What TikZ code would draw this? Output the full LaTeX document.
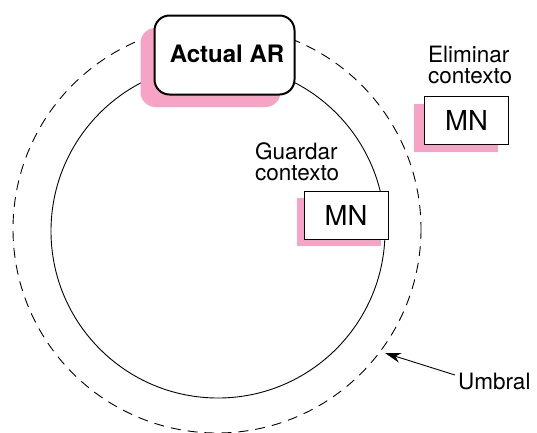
\documentclass[tikz,border=0pt]{standalone}
\usepackage{fontspec}
\setmainfont{TeX Gyre Heros}
\usetikzlibrary{shadows,arrows.meta}
\definecolor{shpink}{RGB}{247,163,198}
\begin{document}
\begin{tikzpicture}[x=1pt,y=-1pt,
  mnbox/.style={draw=black, line width=1pt, fill=white, minimum width=84pt, minimum height=48pt, inner sep=0pt, font=\fontsize{27.5}{27.5}\selectfont},
  lbl/.style={font=\fontsize{22.5}{21}\selectfont, align=left, inner sep=0pt},
  arbox/.style={draw=black, line width=2pt, rounded corners=15pt, fill=white, minimum width=140pt, minimum height=79pt, inner sep=0pt, font=\bfseries\fontsize{24}{24}\selectfont},
  pinkshadow/.style 2 args={general shadow={fill=shpink, draw=none, shadow xshift=#1, shadow yshift=#2}},
  umbralline/.style={line width=0.9pt},
]
\useasboundingbox (0,0) rectangle (537,432);
% threshold (dashed) and inner circle
\draw[umbralline, dash pattern=on 10pt off 7pt] (217,229) circle[radius=204];
\draw[umbralline] (218,231) circle[radius=167];
% current AR
\node[arbox, pinkshadow={-14pt}{-12.5pt}] (ar) at (224.5,55) {\raisebox{2.5pt}{\hspace*{5pt}Actual AR}};
% MN boxes
\node[mnbox, pinkshadow={-7pt}{-7pt}] (mn1) at (346,215) {MN};
\node[mnbox, pinkshadow={-11pt}{-7.5pt}] (mn2) at (466.5,120) {MN};
% labels
\node[lbl, anchor=base west] (guardar) at (255,180) {Guardar\\contexto};
\node[lbl, anchor=base west] (eliminar) at (428,83) {Eliminar\\contexto};
\node[lbl, anchor=base west, inner sep=3pt] (umbral) at (455,389) {Umbral};
\coordinate (tip) at (385,353);
\draw[umbralline, -{Stealth[length=16pt,width=10pt]}] ([yshift=6pt]umbral.west) -- (tip);
\end{tikzpicture}
\end{document}
